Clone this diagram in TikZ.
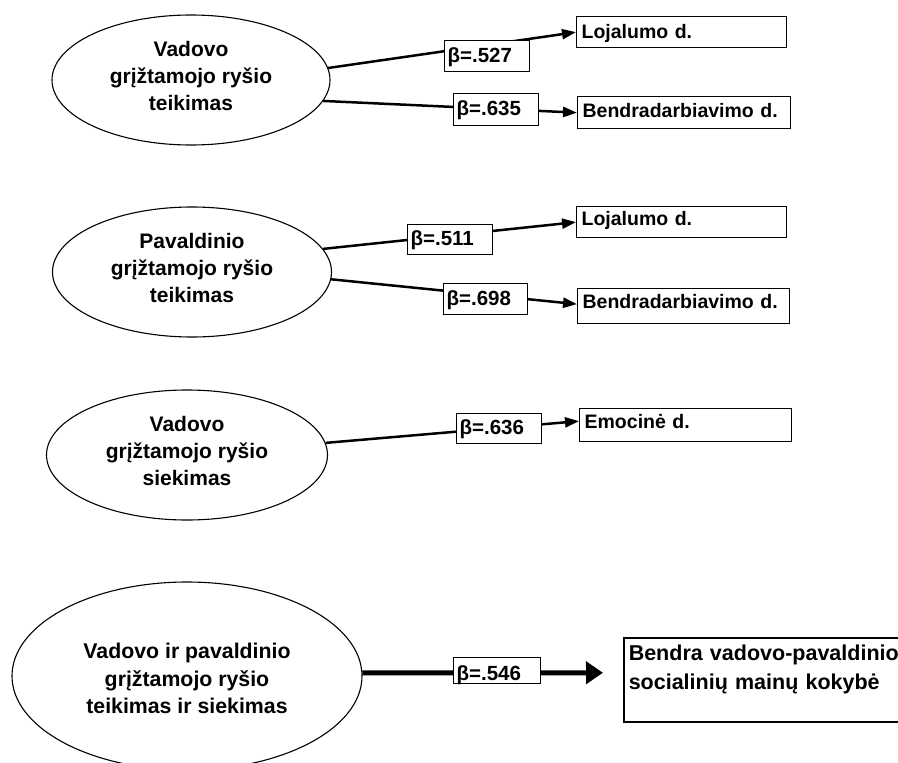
\documentclass[tikz,border=0pt]{standalone}
\usepackage{fontspec}
\setmainfont{Liberation Sans}
\usetikzlibrary{shapes.geometric,arrows.meta}

\tikzset{
  txt/.style={font=\fontsize{21}{27}\selectfont\bfseries},
  oval/.style={txt, ellipse, draw, line width=1.1pt, inner sep=0pt, align=center},
  target/.style={font=\fontsize{19.5}{24}\selectfont\bfseries, draw, line width=1.3pt,
    rectangle, anchor=north west, inner xsep=5pt, inner ysep=0pt, align=left},
  coef/.style={font=\fontsize{20.5}{24}\selectfont\bfseries, draw, fill=white,
    line width=1.3pt, rectangle, anchor=north west, inner xsep=3pt, inner ysep=0pt, align=left},
  link/.style={line width=2.5pt, -{Triangle[length=14pt,width=10pt]}},
  biglink/.style={line width=5pt, -{Triangle[length=17pt,width=22pt]}},
}

\begin{document}
\begin{tikzpicture}[x=1pt,y=-1pt]
\useasboundingbox (0,0) rectangle (898,763);

% predictors
\node[oval, text depth=8pt, minimum width=278pt, minimum height=130pt] (e1) at (191,80)
  {Vadovo\\grįžtamojo ryšio\\teikimas};
\node[oval, text depth=8pt, minimum width=279pt, minimum height=130pt] (e2) at (192,272)
  {Pavaldinio\\grįžtamojo ryšio\\teikimas};
\node[oval, text depth=8pt, minimum width=281pt, minimum height=130pt] (e3) at (187,455)
  {Vadovo\\grįžtamojo ryšio\\siekimas};
\node[oval, font=\fontsize{21.3}{27.5}\selectfont\bfseries, text height=76pt,
  minimum width=350pt, minimum height=188pt] (e4) at (187,676)
  {Vadovo ir pavaldinio\\grįžtamojo ryšio\\teikimas ir siekimas};

% outcomes
\node[target, text width=200pt, text height=22pt, text depth=9pt] (l1) at (576,16) {Lojalumo d.};
\node[target, text width=203pt, text height=21pt, text depth=11pt] (b1) at (577,96) {Bendradarbiavimo d.};
\node[target, text width=200pt, text height=19pt, text depth=12pt] (l2) at (576,206) {Lojalumo d.};
\node[target, text width=202pt, text height=20pt, text depth=15pt] (b2) at (577,288) {Bendradarbiavimo d.};
\node[target, text width=202pt, text height=20pt, text depth=13pt] (em) at (579,408) {Emocinė d.};
\node[target, font=\fontsize{21.5}{29}\selectfont\bfseries, line width=1.5pt,
  text width=270pt, text height=23pt, text depth=61pt] (big) at (623,637)
  {Bendra vadovo-pavaldinio\\socialinių mainų kokybė};

% paths
\draw[link] (e1.5) -- (l1.west);
\draw[link] (e1.-9) -- (b1.west);
\draw[link] (e2.10) -- (l2.west);
\draw[link] (e2.-3) -- ([yshift=2pt]b2.west);
\draw[link] (e3.5) -- ([yshift=4pt]em.west);
\draw[biglink] (e4.1) -- ([xshift=-20pt,yshift=7pt]big.west);

% coefficients
\node[coef, text width=79pt, text height=22pt, text depth=9pt] (c1) at (444,40) {β=.527};
\node[coef, text width=79pt, text height=22pt, text depth=10pt] (c2) at (453,93) {β=.635};
\node[coef, text width=79pt, text height=21pt, text depth=9pt] (c3) at (407,224) {β=.511};
\node[coef, text width=78pt, text height=22pt, text depth=9pt] (c4) at (443,283) {β=.698};
\node[coef, text width=79pt, text height=21pt, text depth=9pt] (c5) at (456,413) {β=.636};
\node[coef, text width=81pt, text height=23pt, text depth=3pt] (c6) at (453,657) {β=.546};
\end{tikzpicture}
\end{document}
